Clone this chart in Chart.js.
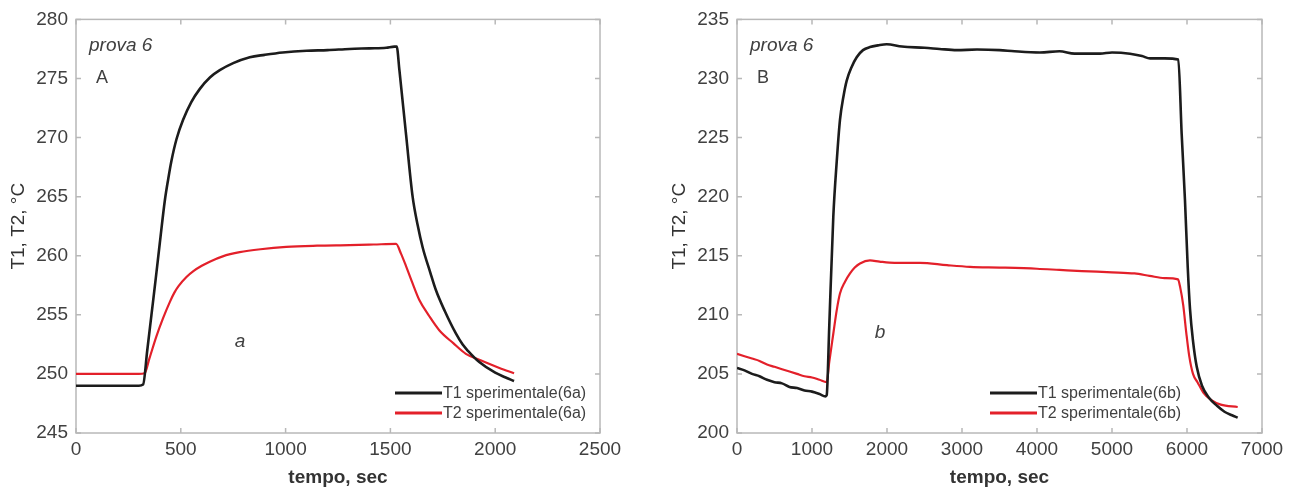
<!DOCTYPE html>
<html>
<head>
<meta charset="utf-8">
<script src="https://cdn.jsdelivr.net/npm/chart.js@4/dist/chart.umd.min.js"></script>
<style>
  html, body { margin: 0; padding: 0; background: #fff; }
  #wrap { position: relative; width: 1297px; height: 491px; overflow: hidden; }
  #chartA { position: absolute; left: 0; top: 0; }
  #chartB { position: absolute; left: 661px; top: 0; }
</style>
</head>
<body>
<div id="wrap">
  <canvas id="chartA" width="640" height="491"></canvas>
  <canvas id="chartB" width="636" height="491"></canvas>
</div>
<script>
// ---- prova 6a ----
const timeA1 = [0, 100, 200, 300, 320, 340, 360, 380, 400, 424, 440, 455, 480, 511, 550, 590, 640, 686, 750, 829, 900, 986, 1100, 1200, 1305, 1400, 1480, 1519, 1530, 1543, 1575, 1606, 1630, 1654, 1690, 1717, 1760, 1813, 1844, 1870, 1924, 2000, 2050, 2090];
const t1A    = [249.0, 249.0, 249.0, 249.0, 249.1, 252.0, 255.0, 258.0, 261.1, 264.7, 266.5, 268.0, 269.9, 271.5, 273.0, 274.1, 275.1, 275.7, 276.3, 276.8, 277.0, 277.2, 277.35, 277.4, 277.5, 277.55, 277.6, 277.7, 277.7, 275.7, 270.2, 265.0, 262.6, 260.7, 258.6, 257.1, 255.3, 253.4, 252.5, 251.95, 251.0, 250.1, 249.7, 249.4];
const timeA2 = [0, 100, 200, 300, 327, 350, 384, 415, 448, 470, 490, 527, 560, 600, 638, 700, 781, 880, 1003, 1150, 1305, 1420, 1527, 1550, 1575, 1605, 1638, 1685, 1733, 1800, 1860, 1924, 1950, 2020, 2090];
const t2A    = [250.0, 250.0, 250.0, 250.0, 250.05, 251.3, 253.2, 254.7, 256.1, 256.9, 257.45, 258.2, 258.7, 259.15, 259.5, 259.95, 260.3, 260.55, 260.75, 260.85, 260.9, 260.95, 261.0, 260.2, 259.1, 257.7, 256.25, 254.9, 253.7, 252.6, 251.7, 251.2, 251.0, 250.5, 250.05];

// ---- prova 6b ----
const timeB1 = [0, 100, 200, 300, 400, 500, 600, 700, 800, 900, 1000, 1100, 1180, 1196, 1230, 1284, 1330, 1373, 1420, 1462, 1530, 1596, 1680, 1773, 1880, 1996, 2200, 2500, 2700, 2929, 3200, 3500, 3700, 4040, 4300, 4500, 4840, 5000, 5240, 5400, 5507, 5700, 5884, 5929, 5973, 6010, 6040, 6080, 6130, 6200, 6290, 6400, 6500, 6600, 6676];
const t1B    = [205.5, 205.3, 205.0, 204.8, 204.5, 204.3, 204.2, 203.9, 203.8, 203.6, 203.5, 203.3, 203.1, 203.2, 209.0, 218.3, 223.0, 226.5, 228.5, 229.8, 231.0, 231.8, 232.4, 232.66, 232.8, 232.9, 232.7, 232.6, 232.5, 232.4, 232.45, 232.4, 232.3, 232.2, 232.3, 232.1, 232.1, 232.2, 232.1, 231.9, 231.7, 231.7, 231.6, 225.3, 219.7, 214.0, 210.5, 207.8, 205.6, 204.0, 203.0, 202.3, 201.8, 201.5, 201.3];
const timeB2 = [0, 100, 200, 300, 400, 500, 600, 700, 800, 900, 1000, 1100, 1196, 1230, 1284, 1330, 1373, 1440, 1507, 1570, 1640, 1773, 1900, 2100, 2440, 2800, 3107, 3500, 4000, 4300, 4600, 5000, 5300, 5500, 5700, 5880, 5910, 5950, 5990, 6030, 6080, 6140, 6220, 6320, 6450, 6676];
const t2B    = [206.7, 206.5, 206.3, 206.1, 205.8, 205.6, 205.4, 205.2, 205.0, 204.8, 204.7, 204.5, 204.3, 206.0, 208.4, 210.4, 211.8, 212.8, 213.5, 214.0, 214.35, 214.6, 214.5, 214.4, 214.4, 214.2, 214.06, 214.0, 213.9, 213.8, 213.7, 213.6, 213.5, 213.3, 213.1, 213.0, 212.3, 210.8, 208.5, 206.5, 205.0, 204.3, 203.4, 202.8, 202.4, 202.2];

const FONT = '"Liberation Sans", Arial, sans-serif';
const TXT = '#404040';

function pts(xs, ys) {
    return xs.map((x, i) => ({ x: x, y: ys[i] }));
}

// cornice grigia con tacche interne su tutti i lati
const framePlugin = {
    id: 'frame',
    beforeDatasetsDraw(chart) {
        const { ctx, chartArea: a, scales } = chart;
        ctx.save();
        ctx.strokeStyle = '#b8b8b8';
        ctx.lineWidth = 1.5;
        ctx.strokeRect(a.left, a.top, a.right - a.left, a.bottom - a.top);
        ctx.beginPath();
        scales.x.ticks.forEach(t => {
            const px = scales.x.getPixelForValue(t.value);
            ctx.moveTo(px, a.bottom); ctx.lineTo(px, a.bottom - 5);
            ctx.moveTo(px, a.top); ctx.lineTo(px, a.top + 5);
        });
        scales.y.ticks.forEach(t => {
            const py = scales.y.getPixelForValue(t.value);
            ctx.moveTo(a.left, py); ctx.lineTo(a.left + 5, py);
            ctx.moveTo(a.right, py); ctx.lineTo(a.right - 5, py);
        });
        ctx.stroke();
        ctx.restore();
    }
};

// scritte dentro il grafico + legenda in basso a destra
const notesPlugin = {
    id: 'notes',
    afterDatasetsDraw(chart, args, opts) {
        const { ctx, chartArea: a } = chart;
        ctx.save();
        ctx.fillStyle = TXT;
        ctx.textBaseline = 'middle';
        ctx.textAlign = 'left';
        ctx.font = 'italic 19px ' + FONT;
        ctx.fillText('prova 6', a.left + 13, a.top + 26);
        ctx.font = '18px ' + FONT;
        ctx.fillText(opts.big, a.left + 20, a.top + 59);
        ctx.textAlign = 'center';
        ctx.font = 'italic 19px ' + FONT;
        ctx.fillText(opts.small, opts.smallX, opts.smallY);

        // legenda
        ctx.textAlign = 'left';
        ctx.font = '16px ' + FONT;
        chart.data.datasets.forEach((ds, i) => {
            const y = a.bottom - 40 + i * 20;
            const x0 = a.right - opts.legendW;
            ctx.strokeStyle = ds.borderColor;
            ctx.lineWidth = 3;
            ctx.beginPath();
            ctx.moveTo(x0, y);
            ctx.lineTo(x0 + 47, y);
            ctx.stroke();
            ctx.fillStyle = TXT;
            ctx.fillText(ds.label, x0 + 48, y + 1);
        });
        ctx.restore();
    }
};

function makeChart(id, cfg) {
    return new Chart(document.getElementById(id), {
        type: 'line',
        data: {
            datasets: [{
                label: cfg.label1,
                data: pts(cfg.x1, cfg.y1),
                borderColor: '#1c1c1c',
                borderWidth: 2.6,
                pointRadius: 0,
                cubicInterpolationMode: 'monotone'
            }, {
                label: cfg.label2,
                data: pts(cfg.x2, cfg.y2),
                borderColor: '#e3202a',
                borderWidth: 2.2,
                pointRadius: 0,
                cubicInterpolationMode: 'monotone'
            }]
        },
        options: {
            responsive: false,
            animation: false,
            layout: { padding: { top: 19, right: cfg.padRight, left: 0, bottom: 0 } },
            plugins: {
                legend: { display: false },
                tooltip: { enabled: false },
                notes: cfg.notes
            },
            scales: {
                x: {
                    type: 'linear',
                    min: 0,
                    max: cfg.xMax,
                    ticks: { stepSize: cfg.xStep, color: TXT, font: { family: FONT, size: 19 }, padding: 5, maxRotation: 0, callback: v => String(v) },
                    grid: { display: false, drawTicks: false },
                    border: { display: false },
                    title: { display: true, text: 'tempo, sec', color: '#333', font: { family: FONT, size: 19, weight: 'bold' }, padding: { top: 0, bottom: 2 } },
                    afterFit: s => { s.height = 58; }
                },
                y: {
                    min: cfg.yMin,
                    max: cfg.yMax,
                    ticks: { stepSize: 5, color: TXT, font: { family: FONT, size: 19 }, padding: 8, callback: v => String(v) },
                    grid: { display: false, drawTicks: false },
                    border: { display: false },
                    title: { display: true, text: 'T1, T2, °C', color: '#333', font: { family: FONT, size: 19 }, padding: { top: 7, bottom: 0 } },
                    afterFit: s => { s.width = 76; }
                }
            }
        },
        plugins: [framePlugin, notesPlugin]
    });
}

makeChart('chartA', {
    x1: timeA1, y1: t1A, x2: timeA2, y2: t2A,
    label1: 'T1 sperimentale(6a)', label2: 'T2 sperimentale(6a)',
    xMax: 2500, xStep: 500, yMin: 245, yMax: 280, padRight: 40,
    notes: { big: 'A', small: 'a', smallX: 240, smallY: 342, legendW: 205 }
});

makeChart('chartB', {
    x1: timeB1, y1: t1B, x2: timeB2, y2: t2B,
    label1: 'T1 sperimentale(6b)', label2: 'T2 sperimentale(6b)',
    xMax: 7000, xStep: 1000, yMin: 200, yMax: 235, padRight: 35,
    notes: { big: 'B', small: 'b', smallX: 219, smallY: 333, legendW: 272 }
});
</script>
</body>
</html>
